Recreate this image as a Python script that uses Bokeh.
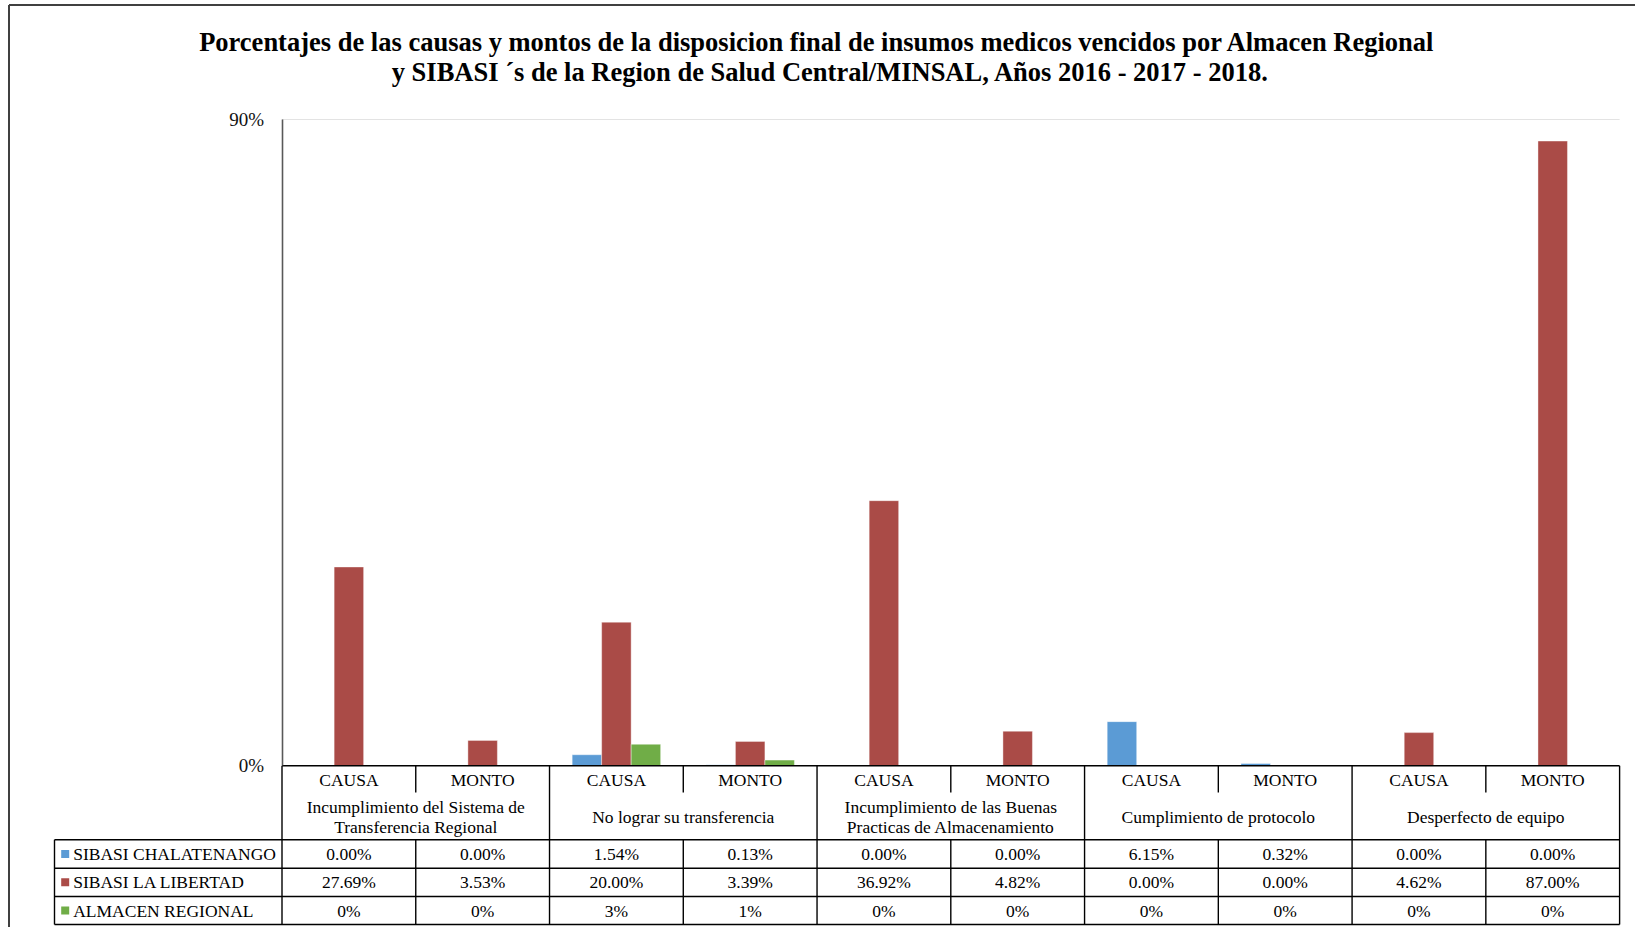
from bokeh.plotting import figure
from bokeh.models import Range1d, LinearAxis, FixedTicker, PrintfTickFormatter
from bokeh.core.properties import value
from bokeh.embed import file_html
from bokeh.resources import INLINE

# ---------------- data ----------------
title_lines = [
    "Porcentajes de las causas y montos de  la disposicion final de insumos medicos  vencidos por  Almacen  Regional",
    "y SIBASI \u00b4s de la Region de Salud Central/MINSAL, A\u00f1os 2016 - 2017 - 2018.",
]
causes = [
    ["Incumplimiento del Sistema de", "Transferencia Regional"],
    ["No lograr su transferencia"],
    ["Incumplimiento de las Buenas", "Practicas de Almacenamiento"],
    ["Cumplimiento de protocolo"],
    ["Desperfecto de equipo"],
]
measures = ["CAUSA", "MONTO"]
series_names = ["SIBASI CHALATENANGO", "SIBASI LA LIBERTAD", "ALMACEN REGIONAL"]
chalatenango = [0.00, 0.00, 1.54, 0.13, 0.00, 0.00, 6.15, 0.32, 0.00, 0.00]
la_libertad = [27.69, 3.53, 20.00, 3.39, 36.92, 4.82, 0.00, 0.00, 4.62, 87.00]
almacen = [0.0, 0.0, 3.0, 0.8, 0.0, 0.0, 0.0, 0.0, 0.0, 0.0]
value_formats = ["{:.2f}%", "{:.2f}%", "{:.0f}%"]
y_ticks = [0, 90]

# ---------------- layout / style ----------------
colors = ["#5B9BD5", "#AA4B47", "#70AD47"]
W, H = 1635, 927
SLOT = 133.76      # px per column
X0 = 281.5         # page x of plot left edge
PPU = 7.181        # px per percentage point
Y0 = 765.3         # page y of 0%
FONT = value("Liberation Serif")
TS = "17.5px"


def ux(px):
    return (px - X0) / SLOT


def vy(py):
    return (Y0 - py) / PPU


series = [chalatenango, la_libertad, almacen]
n = len(la_libertad)
centers = [i + 0.5 for i in range(n)]
BW = 0.2205

p = figure(width=W, height=H,
           x_range=Range1d(ux(0), ux(W)), y_range=Range1d(vy(H), vy(0)),
           x_axis_type=None, y_axis_type=None,
           toolbar_location=None, output_backend="svg",
           min_border=0, min_border_left=0, min_border_right=0,
           min_border_top=0, min_border_bottom=0,
           outline_line_color=None, background_fill_color="white")

# gridline at top tick
p.segment(x0=[0], y0=[y_ticks[-1]], x1=[n], y1=[y_ticks[-1]],
          line_color="#e3e3e3", line_width=1)

# bars
for k, (vals, col) in enumerate(zip(series, colors)):
    xs = [c + (k - 1) * BW for c in centers]
    p.vbar(x=xs, top=vals, bottom=0, width=BW, fill_color=col,
           line_color="white", line_alpha=0.4, line_width=1)

# y axis
yaxis = LinearAxis(fixed_location=0, bounds=(0, y_ticks[-1]),
                   ticker=FixedTicker(ticks=y_ticks),
                   formatter=PrintfTickFormatter(format="%d%%"),
                   major_tick_line_color=None, minor_tick_line_color=None,
                   major_tick_out=0, major_tick_in=0,
                   major_label_standoff=18,
                   axis_line_color="#595959", axis_line_width=1.6,
                   major_label_text_font="Liberation Serif",
                   major_label_text_font_size="19px",
                   major_label_text_color="#111111")
p.add_layout(yaxis, "left")

# ---------------- data table ----------------
row_lines = [vy(839.3), vy(867.7), vy(896.0), vy(924.0)]
bottom = row_lines[-1]
xl = ux(54)
hx0, hy0, hx1, hy1 = [0], [0], [n], [0]
for r in row_lines:
    hx0.append(xl); hy0.append(r); hx1.append(n); hy1.append(r)
p.segment(x0=hx0, y0=hy0, x1=hx1, y1=hy1, line_color="black", line_width=1.4)

vx0, vy0, vx1, vy1 = [xl], [row_lines[0]], [xl], [bottom]
for k in range(n + 1):
    if k % 2 == 0:
        vx0.append(k); vy0.append(0); vx1.append(k); vy1.append(bottom)
    else:
        vx0 += [k, k]; vy0 += [0, row_lines[0]]; vx1 += [k, k]; vy1 += [vy(792), bottom]
p.segment(x0=vx0, y0=vy0, x1=vx1, y1=vy1, line_color="black", line_width=1.4)

# measure labels
p.text(x=centers, y=[vy(779.5)] * n, text=[measures[i % 2] for i in range(n)],
       text_font=FONT, text_font_size=TS, text_align="center",
       text_baseline="middle", text_color="black")

# cause labels
cx, cy, ct = [], [], []
for i, lines in enumerate(causes):
    ys = [vy(816.5)] if len(lines) == 1 else [vy(806.5), vy(826.5)]
    for t, yy in zip(lines, ys):
        cx.append(2 * i + 1); cy.append(yy); ct.append(t)
p.text(x=cx, y=cy, text=ct, text_font=FONT, text_font_size=TS,
       text_align="center", text_baseline="middle", text_color="black")

# values
row_centers = [(row_lines[j] + row_lines[j + 1]) / 2 for j in range(3)]
for j, (vals, fmt) in enumerate(zip(series, value_formats)):
    p.text(x=centers, y=[row_centers[j]] * n, text=[fmt.format(v) for v in vals],
           text_font=FONT, text_font_size=TS, text_align="center",
           text_baseline="middle", text_color="black")

# legend keys
p.scatter(x=[ux(64.7)] * 3, y=row_centers, marker="square", size=8,
          fill_color=colors, line_color=None)
p.text(x=[ux(72.7)] * 3, y=row_centers, text=series_names, text_font=FONT,
       text_font_size=TS, text_align="left", text_baseline="middle",
       text_color="black")

# title
p.text(x=[ux(830)] * 2, y=[vy(41), vy(71)], text=title_lines, text_font=FONT,
       text_font_size="26.5px", text_font_style="bold", text_align="center",
       text_baseline="middle", text_color="black")

# chart area border (top / left)
p.segment(x0=[ux(8.5), ux(8.5)], y0=[vy(4.5), vy(4.5)], x1=[ux(8.5), ux(W)], y1=[vy(H), vy(4.5)],
          line_color="#404040", line_width=2)

open("out.html", "w").write(file_html(p, INLINE))
